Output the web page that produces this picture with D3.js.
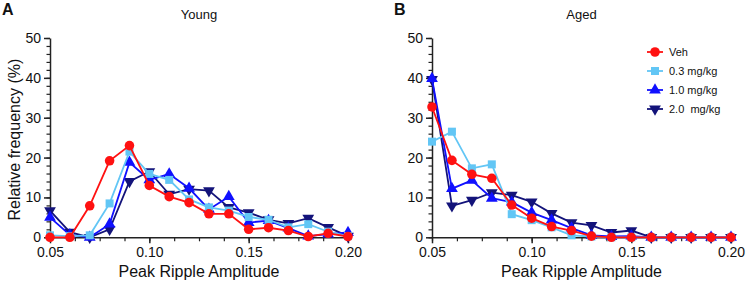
<!DOCTYPE html>
<html><head><meta charset="utf-8">
<script src="https://cdn.jsdelivr.net/npm/d3@7"></script>
<style>body{margin:0;background:#fff}svg{display:block;font-family:"Liberation Sans",Arial,sans-serif}</style>
</head><body><svg id="c" width="746" height="284"></svg>
<script>
const amplitudes = [0.05,0.06,0.07,0.08,0.09,0.10,0.11,0.12,0.13,0.14,0.15,0.16,0.17,0.18,0.19,0.20];
const seriesNames = ["Veh","0.3 mg/kg","1.0 mg/kg","2.0  mg/kg"];
const xTicks = [0.05,0.10,0.15,0.20];
const yTicks = [0,10,20,30,40,50];
// Young
const youngVeh = [0,0,7.9,19.2,23.0,13.0,10.2,8.7,5.9,5.9,2.0,2.4,1.7,0.2,1.0,0.2];
const young03  = [0.5,0.3,0.5,8.5,21.5,15.9,14.4,9.5,7.5,6.7,5.1,4.4,2.5,3.3,1.4,0.3];
const young10  = [5.0,0.6,0,3.3,18.8,14.4,15.9,12.3,7.0,10.2,3.7,4.2,2.3,0.3,0.8,1.2];
const young20  = [6.7,1.3,0,2.0,14.0,16.5,10.8,12.1,11.7,7.5,6.2,4.4,3.5,4.8,2.5,0.3];
// Aged
const agedVeh = [32.7,19.3,15.8,14.8,8.1,4.8,2.7,1.7,0.3,0,0,0,0,0,0,0];
const aged03  = [24.0,26.5,17.3,18.3,5.8,4.3,2.5,0.5,0.2,0,0,0,0,0,0,0];
const aged10  = [39.8,12.2,14.3,9.8,8.8,6.2,4.3,2.3,0.5,0.2,0.3,0,0,0,0,0];
const aged20  = [39.6,7.9,9.3,11.2,10.6,8.9,6.0,3.7,3.0,1.2,1.7,0,0,0,0,0];

const colors = ["#ff1111","#62c6f5","#1010ff","#13137a"];
const symbols = [d3.symbolCircle, d3.symbolSquare, d3.symbolTriangle, d3.symbolTriangle];
const symSize = [72, 64, 60, 60];
const symRot = [0,0,0,180];

const svg = d3.select("#c");

function panel(opts){
  const g = svg.append("g");
  const x = d3.scaleLinear().domain([0.05,0.20]).range([opts.x0, opts.x1]);
  const y = d3.scaleLinear().domain([0,50]).range([237.3, 38]);
  // minor ticks x
  const xMinor = d3.range(0.05, 0.2001, 0.0125);
  g.append("g").attr("transform",`translate(0,${y(0)})`)
    .call(d3.axisBottom(x).tickValues(xMinor).tickSize(4).tickFormat(""))
    .call(a=>a.select(".domain").remove())
    .call(a=>a.selectAll("line").attr("stroke","#222").attr("stroke-width",1.2));
  const xa = g.append("g").attr("transform",`translate(0,${y(0)})`)
    .call(d3.axisBottom(x).tickValues(xTicks).tickSize(6).tickSizeOuter(0).tickFormat(d3.format(".2f")).tickPadding(4));
  xa.select(".domain").attr("stroke","#222").attr("stroke-width",1.5);
  xa.selectAll("line").attr("stroke","#222").attr("stroke-width",1.5);
  xa.selectAll("text").attr("font-size",14).attr("fill","#111").attr("font-family","Liberation Sans, Arial, sans-serif");
  // y minor
  g.append("g").attr("transform",`translate(${opts.x0},0)`)
    .call(d3.axisLeft(y).tickValues(d3.range(0,51,2)).tickSize(3.5).tickFormat(""))
    .call(a=>a.select(".domain").remove())
    .call(a=>a.selectAll("line").attr("stroke","#222").attr("stroke-width",1.2));
  const ya = g.append("g").attr("transform",`translate(${opts.x0},0)`)
    .call(d3.axisLeft(y).tickValues(yTicks).tickSize(6).tickSizeOuter(0).tickPadding(3));
  ya.select(".domain").attr("stroke","#222").attr("stroke-width",1.5);
  ya.selectAll("line").attr("stroke","#222").attr("stroke-width",1.5);
  ya.selectAll("text").attr("font-size",14).attr("fill","#111").attr("font-family","Liberation Sans, Arial, sans-serif");

  // series (draw 2.0 first, Veh last)
  for (let i = opts.data.length-1; i >= 0; i--){
    const vals = opts.data[i];
    const pts = amplitudes.map((a,k)=>[a, vals[k]]);
    g.append("path").datum(pts)
      .attr("fill","none").attr("stroke",colors[i]).attr("stroke-width",1.8)
      .attr("d", d3.line().x(d=>x(d[0])).y(d=>y(d[1])));
    g.selectAll(null).data(pts).enter().append("path")
      .attr("transform",d=>`translate(${x(d[0])},${y(d[1])}) rotate(${symRot[i]})`)
      .attr("d", d3.symbol().type(symbols[i]).size(symSize[i]))
      .attr("fill",colors[i]);
  }
  // titles
  g.append("text").attr("x",(opts.x0+opts.x1)/2).attr("y",19).attr("text-anchor","middle")
    .attr("font-size",13).attr("fill","#111").text(opts.title);
  g.append("text").attr("x",opts.letterX).attr("y",15).attr("font-size",16).attr("font-weight","bold")
    .attr("fill","#111").text(opts.letter);
  g.append("text").attr("x",(opts.x0+opts.x1)/2).attr("y",277).attr("text-anchor","middle")
    .attr("font-size",16).attr("fill","#111").text("Peak Ripple Amplitude");
  if (opts.ylabel){
    g.append("text").attr("transform",`translate(20,${(y(0)+y(50))/2+2}) rotate(-90)`)
      .attr("text-anchor","middle").attr("font-size",16).attr("fill","#111").text(opts.ylabel);
  }
  if (opts.legend){
    seriesNames.forEach((n,i)=>{
      const ly = 52 + i*19;
      const lg = g.append("g");
      lg.append("line").attr("x1",647).attr("x2",663).attr("y1",ly).attr("y2",ly)
        .attr("stroke",colors[i]).attr("stroke-width",1.8);
      lg.append("path").attr("transform",`translate(655,${ly}) rotate(${symRot[i]})`)
        .attr("d", d3.symbol().type(symbols[i]).size(symSize[i])).attr("fill",colors[i]);
      lg.append("text").attr("x",669).attr("y",ly+4).attr("font-size",11).attr("fill","#111")
        .attr("xml:space","preserve").style("white-space","pre").text(n);
    });
  }
}

panel({x0:50, x1:348, title:"Young", letter:"A", letterX:2, ylabel:"Relative frequency (%)",
  data:[youngVeh, young03, young10, young20]});
panel({x0:432, x1:731, title:"Aged", letter:"B", letterX:394, legend:true,
  data:[agedVeh, aged03, aged10, aged20]});
</script></body></html>
